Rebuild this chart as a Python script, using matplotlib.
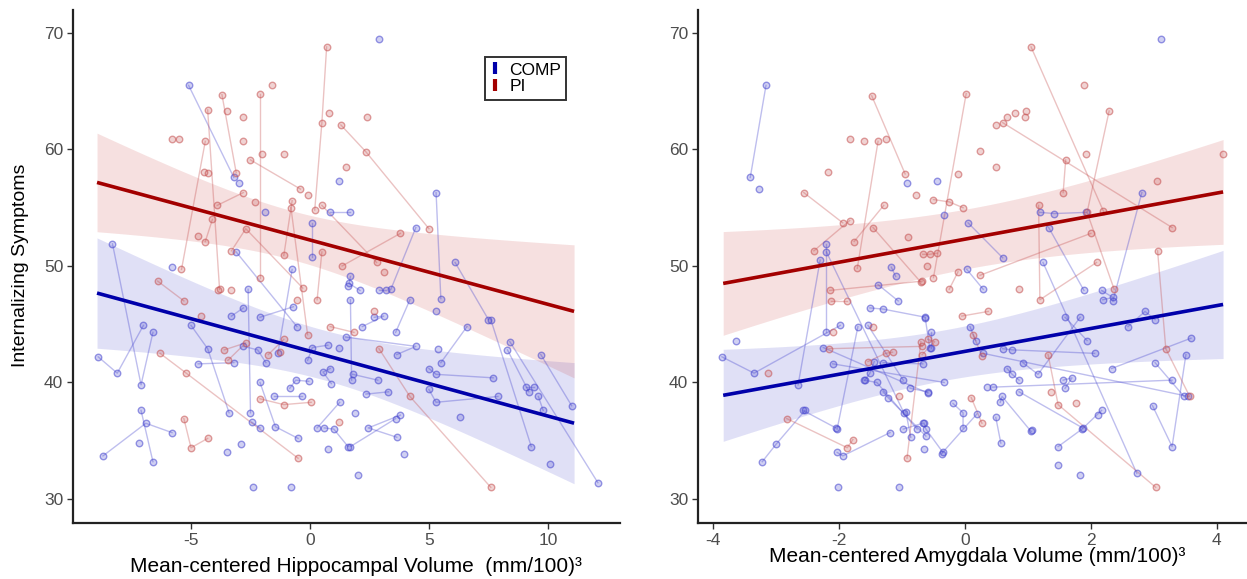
import numpy as np
import matplotlib
matplotlib.use("Agg")
import matplotlib.pyplot as plt
from matplotlib.lines import Line2D

plt.rcParams["font.family"] = ["Liberation Sans", "DejaVu Sans"]
plt.rcParams["axes.unicode_minus"] = False

# ---------------------------------------------------------------------------
# Subject trajectories (x = mean-centered volume, y = internalizing score).
# Each inner list is one participant measured at 1-3 time points.
# ---------------------------------------------------------------------------
hippo_comp = [
    [(-5.1, 65.5), (-3.2, 57.6)], [(-3.0, 57.1)],
    [(-8.3, 51.9), (-7.1, 39.8), (-6.6, 44.3)],
    [(-8.9, 42.2), (-8.1, 40.8), (-7.0, 44.9)],
    [(-8.7, 33.7), (-6.9, 36.5), (-5.8, 35.7)],
    [(-7.1, 37.6), (-6.6, 33.2)], [(-7.2, 34.8)], [(-5.8, 49.9)],
    [(-5.0, 44.9), (-4.3, 42.9), (-3.4, 37.4)],
    [(-4.7, 41.6), (-3.2, 41.7)],
    [(-3.5, 34.0)], [(-2.9, 34.7)], [(-2.4, 31.0)], [(-0.8, 31.0)],
    [(-2.6, 48.0), (-2.5, 37.4)],
    [(-3.3, 45.7), (-2.8, 46.4)],
    [(-2.1, 45.6), (-0.7, 46.5)],
    [(-3.1, 51.2), (-0.55, 44.8)],
    [(-2.8, 43.1), (-2.2, 42.8), (-1.85, 41.7)],
    [(-2.1, 40.0), (-1.45, 36.2), (-0.5, 35.2)],
    [(-2.45, 36.6), (-2.1, 36.1)],
    [(-1.5, 38.8), (-0.35, 38.8)],
    [(-0.85, 39.5), (-0.6, 40.2), (-0.05, 40.1)],
    [(-1.9, 54.6)],
    [(-0.75, 49.7), (-1.35, 42.5)],
    [(0.1, 53.7), (0.1, 50.8)],
    [(2.9, 69.5)], [(1.2, 57.3)],
    [(5.3, 56.3), (5.5, 47.2)],
    [(1.7, 54.6), (0.84, 54.6)],
    [(4.45, 53.3), (3.4, 48.0)],
    [(6.1, 50.3), (7.5, 45.4)],
    [(1.6, 48.3)],
    [(1.7, 49.1), (1.65, 48.5), (2.1, 47.9)],
    [(2.9, 47.9), (3.2, 47.9)],
    [(1.7, 47.1), (1.75, 40.2)],
    [(2.7, 45.6), (3.1, 45.7), (2.2, 44.8)],
    [(3.6, 44.3), (4.2, 47.1)],
    [(5.3, 46.1)],
    [(1.5, 43.9), (4.45, 43.1), (3.65, 42.4)],
    [(6.6, 44.8), (5.5, 41.7)], [(5.4, 42.9)],
    [(5.0, 41.2), (5.3, 40.7), (7.7, 40.4)],
    [(5.0, 39.4), (5.3, 38.3), (7.9, 38.8)],
    [(1.8, 40.7), (2.85, 40.2)],
    [(3.3, 39.2), (2.35, 39.0)],
    [(6.3, 37.0)],
    [(3.8, 37.2), (2.45, 36.1), (3.65, 35.3)],
    [(1.9, 37.4)],
    [(1.7, 34.5), (3.6, 36.9)],
    [(3.95, 33.9)], [(2.0, 32.1)],
    [(7.6, 45.4), (9.3, 34.5)],
    [(9.7, 42.4), (11.0, 38.0)],
    [(8.4, 43.5), (12.1, 31.4)],
    [(8.3, 42.8), (9.2, 39.2)],
    [(9.1, 39.6), (9.4, 39.6)],
    [(9.6, 38.8), (9.8, 37.6)],
    [(10.1, 33.0)],
    [(-0.1, 41.9), (0.1, 43.0), (0.75, 43.2)],
    [(1.2, 43.0)],
    [(0.85, 41.2), (0.55, 40.9), (0.9, 39.9)],
    [(1.25, 38.3), (0.3, 36.1)],
    [(0.6, 36.1), (1.0, 36.0), (1.6, 34.5)],
    [(0.75, 34.3)],
]

hippo_pi = [
    [(-6.4, 48.7), (-5.3, 47.0)],
    [(-5.4, 49.7), (-4.4, 60.7)],
    [(-4.3, 63.4), (-3.8, 48.0)],
    [(-5.8, 60.9)], [(-5.5, 60.9)],
    [(-3.7, 64.7), (-3.1, 58.0)],
    [(-3.5, 63.3)], [(-2.8, 62.8)], [(-2.8, 60.7)], [(-1.6, 65.5)],
    [(-2.1, 64.8), (-2.1, 49.0)],
    [(-2.0, 59.6)], [(-1.1, 59.6)],
    [(-2.5, 59.1), (-0.4, 56.6)],
    [(-0.1, 56.1)], [(-4.45, 58.1)], [(-4.3, 58.0)],
    [(-2.8, 56.3), (-3.9, 55.2)],
    [(-4.1, 54.0), (-4.4, 52.1)],
    [(-4.7, 52.6)], [(-2.3, 55.5)],
    [(-3.3, 51.3), (-2.7, 53.2), (-0.3, 48.1)],
    [(-3.85, 47.9)], [(-3.3, 47.9)],
    [(-0.75, 55.6), (-1.1, 50.9)],
    [(-0.8, 55.0), (-0.1, 44.1)],
    [(0.2, 54.8), (0.5, 62.3), (0.7, 68.8)],
    [(0.8, 63.1)],
    [(1.3, 62.1), (2.35, 59.8), (5.0, 53.2)],
    [(2.4, 62.8)], [(1.5, 58.5)],
    [(0.5, 55.2), (2.8, 50.3)],
    [(3.8, 52.8), (1.35, 50.0)],
    [(3.1, 49.5)],
    [(0.5, 51.2), (0.3, 47.1)],
    [(-0.55, 47.1)],
    [(-6.3, 42.5), (-5.2, 40.8), (-0.5, 33.5)],
    [(-5.3, 36.9), (-5.0, 34.4), (-4.3, 35.2)],
    [(-4.6, 45.7)],
    [(-3.6, 42.8), (-2.7, 43.4), (-3.45, 41.9)],
    [(-1.75, 42.4), (-1.1, 43.7)],
    [(-1.25, 42.6)],
    [(0.85, 44.8), (1.85, 44.3)],
    [(-2.1, 38.6), (-1.1, 38.1), (0.05, 38.3)],
    [(1.2, 36.6)],
    [(2.9, 42.9), (4.2, 38.8), (7.6, 31.0)],
    [(2.7, 46.1)],
]

amyg_comp = [
    [(-3.16, 65.5), (-3.41, 57.6)], [(-3.27, 56.6)],
    [(-3.86, 42.2), (-3.35, 40.8), (-1.98, 44.9)],
    [(-3.63, 43.6)],
    [(-3.22, 33.2), (-3.0, 34.7), (-2.54, 37.6)],
    [(-2.65, 39.8), (-2.3, 50.5)],
    [(-2.2, 51.9), (-2.2, 44.3)],
    [(-2.2, 51.2), (-0.97, 37.4)],
    [(-2.03, 34.0), (-1.94, 33.7), (-1.19, 35.7)],
    [(-2.03, 36.0), (-1.7, 44.8)],
    [(-2.02, 31.0)], [(-1.05, 31.0)],
    [(-1.54, 44.9), (-0.98, 40.2)],
    [(-2.25, 43.0), (-0.59, 39.1)],
    [(-2.1, 41.6), (-0.33, 40.0)],
    [(-1.6, 40.2), (-1.4, 40.0), (-0.76, 36.0)],
    [(-1.51, 46.4), (-1.3, 46.3), (-0.63, 45.6)],
    [(-1.17, 49.9), (-1.1, 49.1)],
    [(-1.38, 48.4), (-1.06, 47.0)],
    [(-0.92, 57.1)], [(-0.44, 57.3)],
    [(-1.3, 39.2), (-1.22, 38.7), (-0.62, 35.4)],
    [(-0.86, 35.3), (-0.94, 37.5)],
    [(-0.65, 36.5), (-0.62, 36.0), (-0.35, 34.0)],
    [(-0.65, 34.3)],
    [(-0.54, 44.3), (-0.54, 43.0)],
    [(0.05, 53.7), (0.6, 50.7)], [(-0.33, 54.4)],
    [(0.03, 49.7), (0.29, 48.0)],
    [(0.08, 44.8), (0.17, 43.6)],
    [(-0.19, 38.2), (-0.03, 37.4), (-0.03, 36.1)],
    [(0.44, 39.6), (3.29, 40.2)], [(0.35, 39.6)],
    [(0.49, 37.0), (0.57, 34.8)],
    [(0.56, 38.3), (0.59, 38.8), (1.05, 35.8)],
    [(0.6, 42.9), (0.75, 42.8), (2.06, 42.5)],
    [(0.67, 41.2), (0.75, 40.7), (0.86, 40.2)],
    [(0.92, 41.7), (1.16, 40.7), (1.83, 45.6)],
    [(1.19, 54.6), (1.42, 54.5), (1.93, 54.6)],
    [(1.33, 53.3), (1.89, 47.9)],
    [(1.24, 50.3), (2.73, 32.2)],
    [(2.19, 47.1), (2.35, 47.3), (2.17, 47.9)],
    [(1.59, 45.6), (1.94, 43.6)],
    [(1.56, 40.2), (1.7, 40.4), (1.59, 39.5)],
    [(2.59, 44.8), (2.86, 46.1), (3.02, 45.4)],
    [(2.33, 41.2), (3.59, 43.8)],
    [(3.51, 42.4), (3.29, 34.5), (2.98, 38.0)],
    [(3.48, 38.8), (3.02, 41.7)],
    [(1.48, 34.5), (1.86, 36.0), (2.17, 37.6)],
    [(2.11, 37.2)], [(1.48, 32.9)], [(1.83, 32.1)],
    [(3.11, 69.5)],
    [(2.81, 56.3), (2.35, 47.0)],
    [(-0.37, 33.9), (0.19, 37.3)],
    [(0.86, 39.2), (1.87, 36.1)],
    [(1.06, 35.9)],
    [(-0.98, 36.0), (-0.67, 36.5)],
    [(-2.57, 37.6), (-2.05, 36.1)],
    [(-0.87, 39.5), (-0.59, 39.2)],
    [(-1.44, 41.8), (-1.51, 40.8), (-1.59, 40.2)],
    [(-1.3, 41.7), (-0.67, 41.6)],
    [(-0.63, 45.5), (-0.56, 43.0)],
    [(0.29, 42.5), (3.55, 38.8)],
]

amyg_pi = [
    [(-1.48, 64.6), (-0.95, 57.9)],
    [(-1.83, 60.9)], [(-1.6, 60.7)], [(-1.25, 60.9)],
    [(-1.38, 60.7), (-1.71, 49.8)],
    [(-2.17, 58.1)],
    [(-2.56, 56.3), (-1.94, 53.7)],
    [(-1.83, 53.9), (-2.4, 51.3)],
    [(-1.29, 55.2), (-1.76, 52.1)],
    [(-1.46, 53.3), (-0.7, 48.6)],
    [(-0.78, 56.1)],
    [(-0.5, 55.7), (-0.25, 55.5), (-0.03, 55.0)],
    [(-0.9, 52.5)],
    [(-0.67, 51.0), (-0.56, 51.0), (-0.44, 51.1)],
    [(-0.6, 50.0)],
    [(0.02, 64.8), (-0.5, 49.0)],
    [(-3.13, 40.8)],
    [(-2.83, 36.9), (-1.87, 34.4), (-1.78, 35.1)],
    [(-2.15, 47.9), (-0.68, 48.7)],
    [(-2.13, 47.0), (-1.87, 47.0)],
    [(-2.1, 44.3)], [(-1.46, 44.8)],
    [(-2.16, 42.9), (-0.68, 43.1)],
    [(-1.54, 41.8), (-1.26, 42.5), (-1.15, 42.6)],
    [(-0.59, 43.7), (-0.48, 43.5), (-0.68, 42.4)],
    [(-1.05, 38.8)],
    [(-0.92, 33.5), (-0.7, 43.5)],
    [(-0.11, 49.5), (-0.25, 48.0)],
    [(0.37, 46.1), (-0.05, 45.7)],
    [(0.13, 44.1), (0.27, 42.3)],
    [(0.1, 38.7), (0.27, 36.5)],
    [(1.05, 68.8), (2.2, 54.7)],
    [(1.89, 65.5)],
    [(2.29, 63.3), (1.94, 54.6), (2.37, 48.0)],
    [(0.49, 62.1)], [(0.67, 62.8)], [(0.79, 63.1)], [(0.97, 63.3)], [(0.95, 62.8)],
    [(0.6, 62.3), (3.29, 53.3)],
    [(0.24, 59.9)], [(0.49, 58.5)], [(-0.11, 57.9)], [(1.92, 59.6)],
    [(4.1, 59.6)], [(3.05, 57.3)],
    [(1.6, 59.1), (1.56, 56.3)],
    [(1.17, 55.2), (1.19, 47.1), (2.09, 50.3)],
    [(2.0, 52.8), (0.24, 49.2)],
    [(3.06, 51.3), (3.19, 42.9), (3.57, 38.8)],
    [(0.86, 48.0)],
    [(1.32, 42.4), (1.48, 38.1), (3.03, 31.0)],
    [(1.37, 39.2)], [(1.76, 38.2)],
]

# Fitted lines: (intercept, slope) and confidence band half-width
# parameters (a, b, c): half = sqrt(a + b * (x - c) ** 2)
hippo_range = (-8.95, 11.1)
hippo_fit_comp = (42.69, -0.557)
hippo_fit_pi = (52.23, -0.552)
hippo_band_comp = (4.55, 0.20, 0.5)
hippo_band_pi = (4.385, 0.201, -0.75)

amyg_range = (-3.84, 4.10)
amyg_fit_comp = (42.67, 0.982)
amyg_fit_pi = (52.30, 0.989)
amyg_band_comp = (4.7, 0.87, -0.3)
amyg_band_pi = (6.58, 0.852, 0.1)

groups = ["COMP", "PI"]
y_ticks = [30, 40, 50, 60, 70]
hippo_ticks = [-5, 0, 5, 10]
amyg_ticks = [-4, -2, 0, 2, 4]

point_colors = {"COMP": "#4646CF", "PI": "#C65252"}
fit_colors = {"COMP": "#0000AA", "PI": "#A30000"}
band_colors = {"COMP": "#3232C8", "PI": "#C83232"}


def draw_panel(ax, trajectories, fits, bands, xrange_):
    x = np.linspace(xrange_[0], xrange_[1], 200)
    for g in groups:
        a, b, c = bands[g]
        icpt, slope = fits[g]
        yhat = icpt + slope * x
        half = np.sqrt(a + b * (x - c) ** 2)
        ax.fill_between(x, yhat - half, yhat + half, color=band_colors[g],
                        alpha=0.15, linewidth=0, zorder=1)
    for g in groups:
        col = point_colors[g]
        for traj in trajectories[g]:
            xs = [p[0] for p in traj]
            ys = [p[1] for p in traj]
            if len(traj) > 1:
                ax.plot(xs, ys, color=col, alpha=0.35, lw=1.0, zorder=2)
            ax.scatter(xs, ys, s=22, facecolors=matplotlib.colors.to_rgba(col, 0.25),
                       edgecolors=matplotlib.colors.to_rgba(col, 0.55),
                       linewidths=1.0, zorder=3)
    for g in groups:
        icpt, slope = fits[g]
        ax.plot(x, icpt + slope * x, color=fit_colors[g], lw=2.6, zorder=4,
                solid_capstyle="butt")


def style_axes(ax, xlim, xticks):
    ax.set_xlim(*xlim)
    ax.set_ylim(27.94, 71.97)
    ax.set_xticks(xticks)
    ax.set_yticks(y_ticks)
    for s in ["top", "right"]:
        ax.spines[s].set_visible(False)
    for s in ["left", "bottom"]:
        ax.spines[s].set_color("#222222")
        ax.spines[s].set_linewidth(1.6)
    ax.tick_params(axis="both", colors="#333333", labelcolor="#4D4D4D",
                   labelsize=12.5, length=4, width=1.0, pad=3)


fig = plt.figure(figsize=(12.47, 5.79), dpi=100)
ax1 = fig.add_axes([73 / 1247, 1 - 523 / 579, 547 / 1247, 513 / 579])
ax2 = fig.add_axes([698 / 1247, 1 - 523 / 579, 549 / 1247, 513 / 579])

draw_panel(ax1, {"COMP": hippo_comp, "PI": hippo_pi},
           {"COMP": hippo_fit_comp, "PI": hippo_fit_pi},
           {"COMP": hippo_band_comp, "PI": hippo_band_pi}, hippo_range)
draw_panel(ax2, {"COMP": amyg_comp, "PI": amyg_pi},
           {"COMP": amyg_fit_comp, "PI": amyg_fit_pi},
           {"COMP": amyg_band_comp, "PI": amyg_band_pi}, amyg_range)

style_axes(ax1, (-9.96, 13.03), hippo_ticks)
style_axes(ax2, (-4.24, 4.48), amyg_ticks)

ax1.set_ylabel("Internalizing Symptoms", fontsize=14)
ax1.yaxis.set_label_coords(-0.095, 0.503)
ax1.yaxis.label.set_ha("center")
ax1.yaxis.label.set_va("center")
ax1.yaxis.set_label_coords(-0.0955, 0.503)
ax1.set_xlabel("Mean-centered Hippocampal Volume  (mm/100)\u00b3", fontsize=15)
ax1.xaxis.set_label_coords(0.517, -0.084)
ax1.xaxis.label.set_va("center")
ax2.set_xlabel("Mean-centered Amygdala Volume (mm/100)\u00b3", fontsize=15)
ax2.xaxis.set_label_coords(0.508, -0.066)
ax2.xaxis.label.set_va("center")

handles = [Line2D([], [], color=fit_colors[g], marker="|", linestyle="none",
                  markersize=9, markeredgewidth=3) for g in groups]
leg = ax1.legend(handles, groups, loc="upper left",
                 bbox_to_anchor=(0.753, 0.908), fontsize=12.5, frameon=True,
                 fancybox=False, edgecolor="black", handlelength=0.6,
                 handletextpad=0.5, borderpad=0.3, labelspacing=0.1,
                 borderaxespad=0)
leg.get_frame().set_linewidth(1.4)

fig.savefig("out.png", dpi=100)
